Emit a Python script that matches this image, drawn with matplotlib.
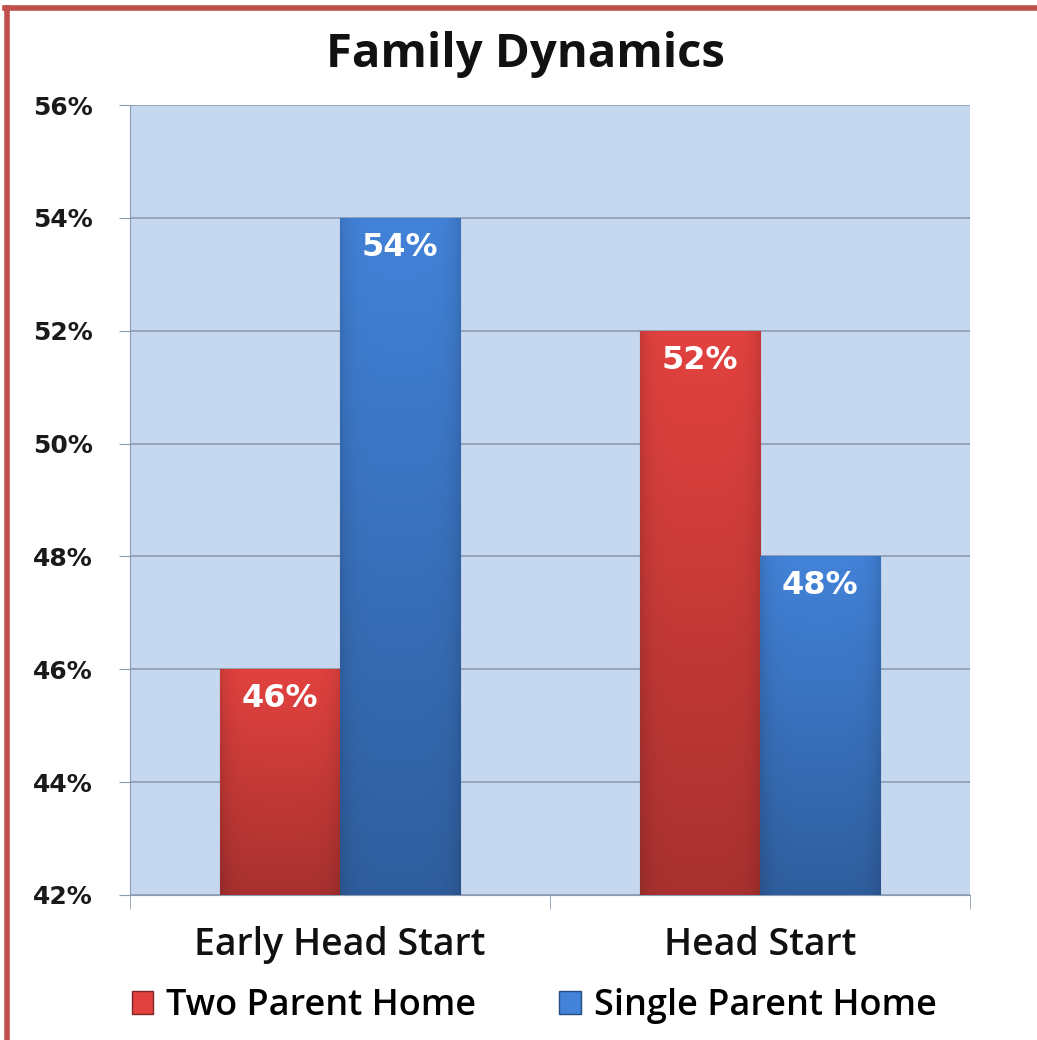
import numpy as np
import matplotlib.pyplot as plt
from matplotlib.lines import Line2D
from matplotlib.patches import Patch
from matplotlib.ticker import FuncFormatter, FixedLocator

categories = ["Early Head Start", "Head Start"]
series_names = ["Two Parent Home", "Single Parent Home"]
two_parent = [46, 52]
single_parent = [54, 48]
y_ticks = [42, 44, 46, 48, 50, 52, 54, 56]

# top / bottom colours of the shaded bars
red_top, red_bot = np.array([226, 66, 63]) / 255, np.array([168, 49, 47]) / 255
blue_top, blue_bot = np.array([66, 130, 216]) / 255, np.array([47, 94, 158]) / 255
y_min, y_max = 42, 56

fig = plt.figure(figsize=(10.37, 10.40), dpi=100)
ax = fig.add_axes([130 / 1037, 1 - 895 / 1040, 840 / 1037, 790 / 1040])
ax.set_facecolor("#c6d8ef")

x = np.arange(len(categories))
w = 0.286
b1 = ax.bar(x - w / 2, two_parent, w, color=red_top, edgecolor="#7e2526", linewidth=0.8, zorder=3)
b2 = ax.bar(x + w / 2, single_parent, w, color=blue_top, edgecolor="#244c80", linewidth=0.8, zorder=3)

gx = np.linspace(-1, 1, 64)
edge = 1 - 0.12 * gx ** 6
for bars, top, bot in ((b1, red_top, red_bot), (b2, blue_top, blue_bot)):
    for bar in bars:
        x0, h = bar.get_x(), bar.get_height()
        t = np.linspace(0, 1, 64)[:, None, None]
        col = top[None, None, :] * (1 - t) + bot[None, None, :] * t
        img = np.clip(col * edge[None, :, None], 0, 1)
        im = ax.imshow(img, extent=[x0, x0 + bar.get_width(), y_min, h], origin="upper",
                       aspect="auto", zorder=3.5, interpolation="bilinear")
        im.set_clip_path(bar)
        ax.text(x0 + bar.get_width() / 2, h - 0.52, f"{h}%", color="white",
                ha="center", va="center", fontsize=23, fontweight="bold",
                family="DejaVu Sans", zorder=5)

ax.set_xlim(-0.5, 1.5)
ax.set_ylim(y_min, y_max)
ax.yaxis.set_major_locator(FixedLocator(y_ticks))
ax.yaxis.set_major_formatter(FuncFormatter(lambda v, p: f"{v:.0f}%"))
ax.grid(axis="y", color="#8c9bb0", linewidth=1.2, zorder=0)
ax.set_axisbelow(True)
for s in ("top", "right"):
    ax.spines[s].set_visible(False)
ax.spines["left"].set_color("#8c9bb0")
ax.spines["bottom"].set_color("#8c9bb0")
ax.tick_params(axis="y", length=8, color="#8c9bb0", labelsize=18, pad=19, labelcolor="#1a1a1a")
for lbl in ax.get_yticklabels():
    lbl.set_fontweight("bold")
ax.set_xticks(x)
ax.set_xticklabels(categories, fontsize=27, family="Open Sans", fontweight="semibold",
                   color="#111111")
ax.tick_params(axis="x", length=0, pad=22)
ax.set_xticks([-0.5, 0.5, 1.5], minor=True)
ax.tick_params(axis="x", which="minor", length=10, color="#8c9bb0")

fig.text(0.507, 1 - 54 / 1040, "Family Dynamics", ha="center", va="center",
         fontsize=34, fontweight="bold", family="Open Sans", color="#111111")

handles = [Patch(facecolor=red_top, edgecolor="#7e2526"),
           Patch(facecolor=blue_top, edgecolor="#244c80")]
fig.legend(handles=handles, labels=series_names, loc="center",
           bbox_to_anchor=(0.515, 1 - 1006 / 1040), ncol=2, frameon=False,
           prop={"family": "Open Sans", "size": 26, "weight": "semibold"},
           handlelength=0.6, handleheight=0.6, columnspacing=2.3, handletextpad=0.35)

# red frame on left and top
fig.add_artist(Line2D([7 / 1037, 7 / 1037], [0, 1 - 8 / 1040], transform=fig.transFigure,
                      color="#c0504d", linewidth=4))
fig.add_artist(Line2D([5 / 1037, 1], [1 - 8 / 1040, 1 - 8 / 1040], transform=fig.transFigure,
                      color="#c0504d", linewidth=4))

fig.savefig("out.png", dpi=100)
